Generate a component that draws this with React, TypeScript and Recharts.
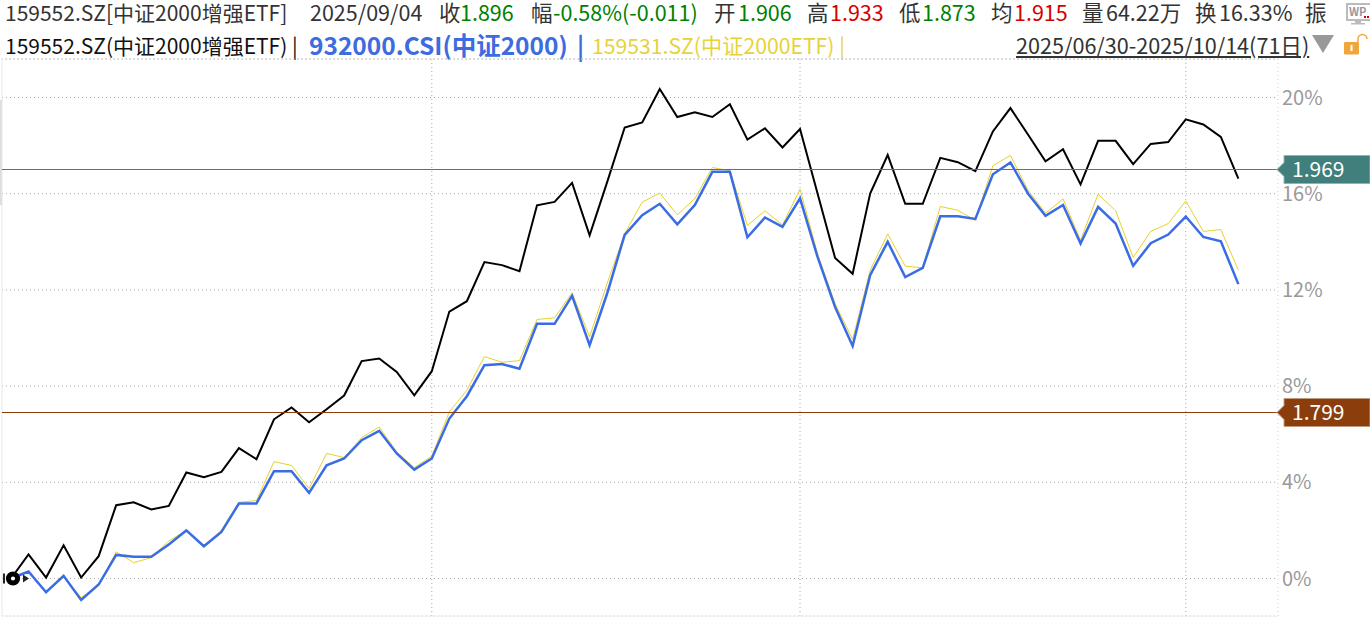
import { CartesianGrid, Line, LineChart, ReferenceDot, ReferenceLine, XAxis, YAxis } from "recharts";

const days = Array.from({ length: 71 }, (_, i) => i);

const etfEnhanced = [
  0, 1.0, 0.04, 1.38, 0.04, 0.93, 3.05, 3.17, 2.87, 3.02, 4.41, 4.21, 4.43, 5.42, 4.96, 6.62, 7.11, 6.5,
  7.04, 7.61, 9.04, 9.15, 8.59, 7.62, 8.62, 11.1, 11.53, 13.16, 13.03, 12.78, 15.52, 15.66, 16.45, 14.27,
  16.48, 18.75, 18.96, 20.35, 19.19, 19.39, 19.19, 19.72, 18.25, 18.72, 17.92, 18.69, 16.01, 13.33, 12.67,
  16.01, 17.61, 15.58, 15.58, 17.49, 17.31, 16.94, 18.59, 19.56, 18.46, 17.35, 17.85, 16.39, 18.2, 18.2,
  17.23, 18.07, 18.15, 19.09, 18.88, 18.36, 16.63,
];

const csi2000 = [
  0, 0.29, -0.57, 0.11, -0.89, -0.25, 0.98, 0.9, 0.9, 1.41, 2.0, 1.34, 1.94, 3.12, 3.12, 4.46, 4.46, 3.56,
  4.71, 4.99, 5.75, 6.14, 5.2, 4.53, 4.99, 6.65, 7.58, 8.87, 8.92, 8.72, 10.59, 10.59, 11.75, 9.7, 11.85,
  14.29, 15.11, 15.58, 14.73, 15.53, 16.91, 16.91, 14.19, 15.01, 14.62, 15.81, 13.37, 11.29, 9.67, 12.61,
  14.0, 12.53, 12.92, 15.06, 15.06, 14.95, 16.81, 17.3, 16.01, 15.08, 15.53, 13.93, 15.45, 14.76, 13.0,
  13.94, 14.3, 15.05, 14.2, 14.02, 12.24,
];

const etf2000 = [
  0, 0.29, -0.57, 0.05, -0.79, -0.28, 1.11, 0.66, 0.87, 1.56, 2.0, 1.34, 2.0, 3.17, 3.24, 4.86, 4.7, 3.74,
  5.2, 5.03, 5.86, 6.3, 5.26, 4.61, 5.09, 6.93, 7.83, 9.23, 8.99, 9.06, 10.77, 10.84, 11.88, 10.05, 12.27,
  14.34, 15.65, 16.03, 15.12, 15.8, 17.09, 16.95, 14.68, 15.29, 14.7, 16.19, 13.51, 11.43, 9.94, 12.82,
  14.33, 12.99, 12.92, 15.47, 15.31, 14.89, 17.17, 17.59, 16.15, 15.19, 15.78, 14.07, 15.98, 15.29, 13.35,
  14.43, 14.76, 15.7, 14.43, 14.51, 12.82,
];

const yTicks = [0, 4, 8, 12, 16, 20];
const monthStarts = [24, 45, 67];
const chartData = days.map((d, i) => ({ d, a: etfEnhanced[i], b: csi2000[i], c: etf2000[i] }));

const FONT = '"Noto Sans CJK SC", "Noto Sans", sans-serif';
const DARK = "#333";
const GREEN = "#008000";
const RED = "#d40000";

const Y_MIN = -1.559;
const Y_MAX = 21.601;
const X_MIN = -0.513;
const X_MAX = 72.26;

// x, text, colour of each piece of the first header row
const rowOne: [number, string, string][] = [
  [310, "2025/09/04", DARK],
  [439, "收", DARK],
  [460, "1.896", GREEN],
  [531, "幅", DARK],
  [553, "-0.58%(-0.011)", GREEN],
  [714, "开", DARK],
  [738, "1.906", GREEN],
  [807, "高", DARK],
  [830, "1.933", RED],
  [899, "低", DARK],
  [922, "1.873", GREEN],
  [991, "均", DARK],
  [1014, "1.915", RED],
  [1082, "量", DARK],
  [1106, "64.22万", DARK],
  [1195, "换", DARK],
  [1219, "16.33%", DARK],
  [1305, "振", DARK],
];

function Tag({ viewBox, text, color, edge }: any) {
  const y = viewBox.y;
  return (
    <g>
      <polygon
        points={`1277,${y} 1284,${y - 7} 1284,${y - 14} 1370,${y - 14} 1370,${y + 14} 1284,${y + 14} 1284,${y + 7}`}
        fill={color}
        stroke={edge}
        strokeWidth={1}
      />
      <text x={1292} y={y + 7.5} fill="#fff" fontSize={21} fontFamily={FONT}>
        {text}
      </text>
    </g>
  );
}

function StartMark({ cx, cy }: any) {
  return (
    <g>
      <rect x={3} y={cy - 5} width={2} height={10} fill="#222" />
      <circle cx={cx + 2} cy={cy} r={4.6} fill="#fff" stroke="#000" strokeWidth={5} />
      <polygon points={`${cx + 12},${cy - 4} ${cx + 18},${cy} ${cx + 12},${cy + 4}`} fill="#222" />
    </g>
  );
}

function Label({ x, y, children, color, size = 21.5, bold, underline }: any) {
  return (
    <span
      style={{
        position: "absolute",
        left: x,
        top: y,
        color,
        fontSize: size,
        fontWeight: bold ? 700 : 400,
        lineHeight: "24px",
        whiteSpace: "nowrap",
        textDecoration: underline ? "underline" : "none",
      }}
    >
      {children}
    </span>
  );
}

export default function App() {
  return (
    <div style={{ position: "absolute", left: 0, top: 0, width: 1370, height: 617, fontFamily: FONT, background: "#fff", overflow: "hidden" }}>
      <Label x={5} y={0} color={DARK} size={21}>159552.SZ[中证2000增强ETF]</Label>
      {rowOne.map(([x, t, c]) => (
        <Label key={x} x={x} y={0} color={c}>
          {t}
        </Label>
      ))}
      <Label x={5} y={33} color="#111" size={21}>159552.SZ(中证2000增强ETF) |</Label>
      <Label x={309} y={33} color="#3d6be0" size={24.5} bold>932000.CSI(中证2000)</Label>
      <Label x={577} y={33} color="#3d6be0" size={24} bold>|</Label>
      <Label x={592} y={33} color="#e8d23a" size={21.2}>159531.SZ(中证2000ETF) |</Label>
      <Label x={1016} y={33} color={DARK} size={21.6} underline>2025/06/30-2025/10/14(71日)</Label>

      <svg width={1370} height={60} style={{ position: "absolute", left: 0, top: 0 }}>
        <polygon points="1312,35 1334,35 1323,53" fill="#999" />
        <rect x={1344} y={42} width={15} height={12.5} rx={1} fill="#f0a63c" />
        <rect x={1350.5} y={45} width={2} height={6} fill="#fff" />
        <path d="M1358,42 v-3 a4.5,4.5 0 0 1 9,0" fill="none" stroke="#f0a63c" strokeWidth={1.5} />
        <rect x={1347} y={4} width={24} height={16} fill="#fff" stroke="#bbb" strokeWidth={2} />
        <text x={1349} y={16} fontSize={11} fontWeight={700} fill="#999" fontFamily={FONT}>WP</text>
        <rect x={1364} y={16} width={2} height={2} fill="#d40000" />
        <rect x={1367} y={16} width={2} height={2} fill="#d40000" />
        <rect x={1355} y={20} width={6} height={3} fill="#bbb" />
        <rect x={1351} y={23} width={14} height={1.5} fill="#bbb" />
      </svg>

      <div style={{ position: "absolute", left: 0, top: 100, width: 2, height: 105, background: "#ddd" }} />

      <div style={{ position: "absolute", left: 0, top: 0 }}>
        <LineChart width={1370} height={617} data={chartData} margin={{ top: 59, right: 0, bottom: 1, left: 2 }}>
          <CartesianGrid vertical={false} stroke="#aaa" strokeDasharray="1 3" />
          <XAxis dataKey="d" type="number" domain={[X_MIN, X_MAX]} hide allowDataOverflow />
          <YAxis
            orientation="right"
            width={92}
            domain={[Y_MIN, Y_MAX]}
            ticks={yTicks}
            allowDataOverflow
            axisLine={false}
            tickLine={false}
            tickMargin={-2}
            tick={{ fill: "#999", fontSize: 20, fontFamily: FONT, textAnchor: "start" }}
            tickFormatter={(v: number) => `${v}%`}
          />
          {monthStarts.map((d) => (
            <ReferenceLine key={d} x={d} stroke="#aaa" strokeDasharray="1 3" />
          ))}
          <ReferenceLine x={X_MAX} stroke="#ccc" strokeDasharray="1 3" />
          <ReferenceLine x={X_MIN} stroke="#e8e8e8" />
          <ReferenceLine y={Y_MAX} stroke="#ccc" strokeDasharray="1 3" />
          <ReferenceLine y={Y_MIN} stroke="#eee" />
          <Line dataKey="c" stroke="#e5d22e" strokeWidth={1} dot={false} isAnimationActive={false} />
          <Line dataKey="a" stroke="#000" strokeWidth={2} dot={false} isAnimationActive={false} />
          <Line dataKey="b" stroke="#3a6ce6" strokeWidth={2.5} dot={false} isAnimationActive={false} />
          <ReferenceLine
            y={17.006}
            stroke="#417f7d"
            ifOverflow="visible"
            label={(p: any) => <Tag {...p} text="1.969" color="#417f7d" edge="#8fb5b3" />}
          />
          <ReferenceLine
            y={6.902}
            stroke="#8b3e0c"
            ifOverflow="visible"
            label={(p: any) => <Tag {...p} text="1.799" color="#8b3e0c" edge="#c09a80" />}
          />
          <ReferenceDot x={0} y={0} r={5} shape={(p: any) => <StartMark {...p} />} />
        </LineChart>
      </div>
    </div>
  );
}
